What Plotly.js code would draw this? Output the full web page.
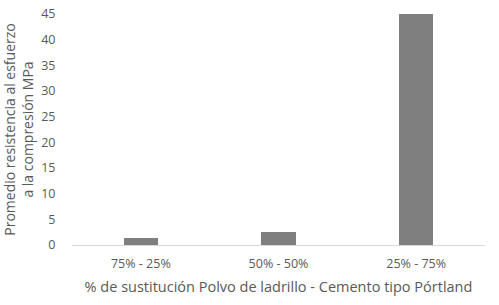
<!DOCTYPE html>
<html>
<head>
<meta charset="utf-8">
<script src="https://cdn.plot.ly/plotly-3.0.1.min.js"></script>
<style>html,body{margin:0;padding:0;background:#fff;}#chart{width:499px;height:305px;}</style>
</head>
<body>
<div id="chart"></div>
<script>
const categories = ["75% - 25%", "50% - 50%", "25% - 75%"];
const resistencia = [1.3, 2.6, 45.0];
const yTicks = [0, 5, 10, 15, 20, 25, 30, 35, 40, 45];

const txt = '#595959';
Plotly.newPlot('chart', [{
  type: 'bar',
  x: categories,
  y: resistencia,
  marker: {color: '#7f7f7f'},
  width: 0.25,
  hoverinfo: 'none'
}], {
  width: 499, height: 305,
  margin: {l: 72, r: 14, t: 14, b: 60},
  paper_bgcolor: '#fff', plot_bgcolor: '#fff',
  font: {family: 'Open Sans, sans-serif', size: 13, color: txt},
  showlegend: false,
  bargap: 0,
  xaxis: {
    showline: true, linecolor: '#d9d9d9', linewidth: 1,
    ticks: 'outside', ticklen: 7, tickcolor: 'rgba(0,0,0,0)', showgrid: false, zeroline: false,
    tickfont: {size: 12.5, color: txt},
    title: {text: '% de sustitución Polvo de ladrillo - Cemento tipo Pórtland', font: {size: 14.5, color: txt}, standoff: 10}
  },
  yaxis: {
    range: [0, 45], tickvals: yTicks, ticktext: yTicks.map(String),
    showgrid: false, zeroline: false, showline: false,
    ticks: 'outside', ticklen: 13, tickcolor: 'rgba(0,0,0,0)',
    tickfont: {size: 12.5, color: txt},
    title: {text: 'Promedio resistencia al esfuerzo<br>a la compresión MPa', font: {size: 14, color: txt}, standoff: 4}
  }
}, {staticPlot: true, displayModeBar: false});
</script>
</body>
</html>
